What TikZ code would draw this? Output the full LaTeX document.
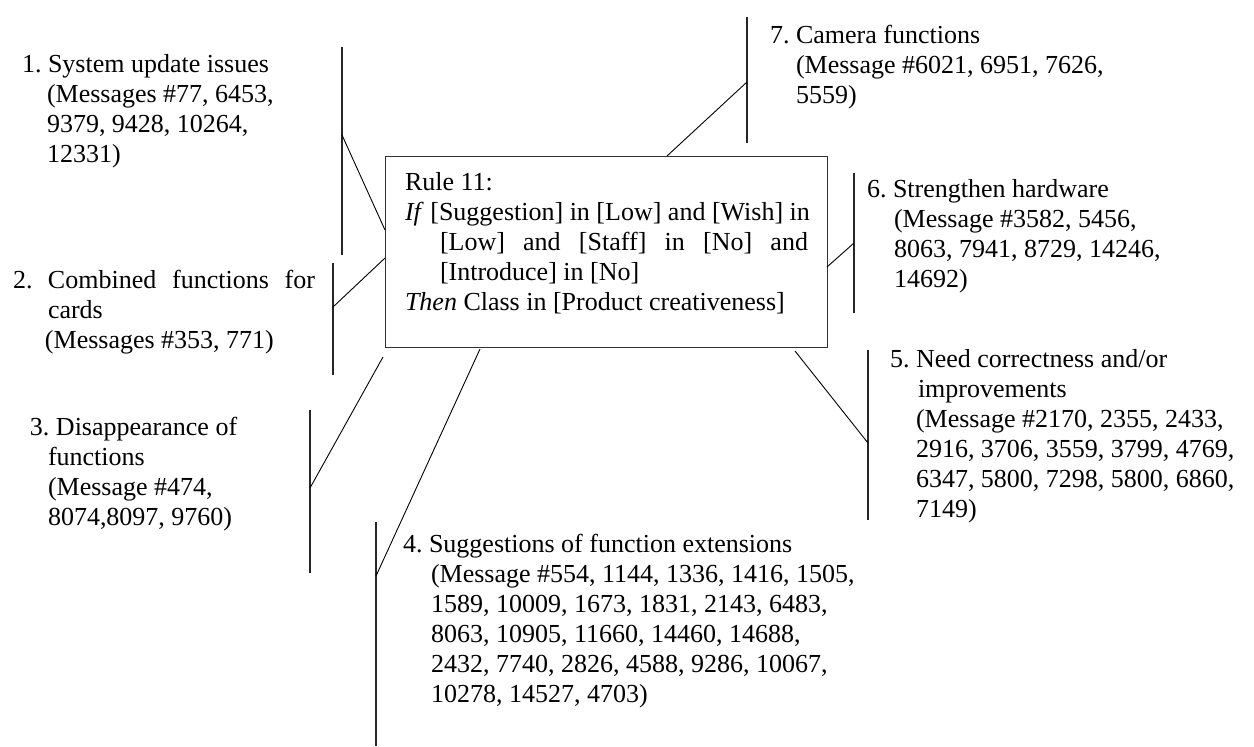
\documentclass[tikz,border=0pt]{standalone}
\usepackage{fontspec}
\setmainfont{Liberation Serif}
\begin{document}
\begin{tikzpicture}[x=1pt,y={(0pt,-1pt)},
  txt/.style={anchor=base west, inner sep=0pt, outer sep=0pt, font=\fontsize{26}{30}\selectfont},
  bar/.style={line width=1.1pt, black!85},
  link/.style={line width=0.9pt, black},
  rulebox/.style={draw=black!80, line width=0.9pt, minimum width=442pt, minimum height=191pt, anchor=north west, inner sep=0pt}]
\fill[white] (0,0) rectangle (1254,747);
\useasboundingbox (0,0) rectangle (1254,747);

% central box
\node[rulebox] (rule) at (385,156) {};
\node[txt] (ruletext) at (405,190) {\vtop{%
  \hbox{Rule 11:}
  \hbox{\textit{If} [Suggestion] in [Low] and [Wish] in}
  \hbox{\hspace*{35pt}\makebox[368pt][s]{[Low] and [Staff] in [No] and}}
  \hbox{\hspace*{35pt}[Introduce] in [No]}
  \hbox{\textit{Then} Class in [Product creativeness]}}};

% item texts
\node[txt] (t1) at (22,72) {\vtop{%
  \hbox{1.\ System update issues}
  \hbox{\hspace*{25pt}(Messages \#77, 6453,}
  \hbox{\hspace*{25pt}9379, 9428, 10264,}
  \hbox{\hspace*{25pt}12331)}}};
\node[txt] (t2) at (13,288) {\vtop{%
  \hbox{\makebox[35pt][l]{2.}\makebox[267pt][s]{Combined functions for}}
  \hbox{\hspace*{35pt}cards}
  \hbox{\hspace*{32pt}(Messages \#353, 771)}}};
\node[txt] (t3) at (30,435) {\vtop{%
  \hbox{3.\ Disappearance of}
  \hbox{\hspace*{18pt}functions}
  \hbox{\hspace*{18pt}(Message \#474,}
  \hbox{\hspace*{18pt}8074,8097, 9760)}}};
\node[txt] (t4) at (403,552) {\vtop{%
  \hbox{4.\ Suggestions of function extensions}
  \hbox{\hspace*{28pt}(Message \#554, 1144, 1336, 1416, 1505,}
  \hbox{\hspace*{28pt}1589, 10009, 1673, 1831, 2143, 6483,}
  \hbox{\hspace*{28pt}8063, 10905, 11660, 14460, 14688,}
  \hbox{\hspace*{28pt}2432, 7740, 2826, 4588, 9286, 10067,}
  \hbox{\hspace*{28pt}10278, 14527, 4703)}}};
\node[txt] (t5) at (890,367) {\vtop{%
  \hbox{5.\ Need correctness and/or}
  \hbox{\hspace*{28pt}improvements}
  \hbox{\hspace*{26pt}(Message \#2170, 2355, 2433,}
  \hbox{\hspace*{26pt}2916, 3706, 3559, 3799, 4769,}
  \hbox{\hspace*{26pt}6347, 5800, 7298, 5800, 6860,}
  \hbox{\hspace*{26pt}7149)}}};
\node[txt] (t6) at (867,197) {\vtop{%
  \hbox{6.\ Strengthen hardware}
  \hbox{\hspace*{27pt}(Message \#3582, 5456,}
  \hbox{\hspace*{27pt}8063, 7941, 8729, 14246,}
  \hbox{\hspace*{27pt}14692)}}};
\node[txt] (t7) at (770,43) {\vtop{%
  \hbox{7.\ Camera functions}
  \hbox{\hspace*{26pt}(Message \#6021, 6951, 7626,}
  \hbox{\hspace*{26pt}5559)}}};

% vertical bars
\coordinate (b1t) at (342,47);  \coordinate (b1b) at (342,255); \coordinate (b1m) at (342,135);
\coordinate (b2t) at (333,263); \coordinate (b2b) at (333,375); \coordinate (b2m) at (333,307);
\coordinate (b3t) at (310,410); \coordinate (b3b) at (310,573); \coordinate (b3m) at (310,488);
\coordinate (b4t) at (376,522); \coordinate (b4b) at (376,746); \coordinate (b4m) at (376,576);
\coordinate (b5t) at (868,350); \coordinate (b5b) at (868,520); \coordinate (b5m) at (868,443);
\coordinate (b6t) at (854,173); \coordinate (b6b) at (854,313); \coordinate (b6m) at (854,243);
\coordinate (b7t) at (747,17);  \coordinate (b7b) at (747,143); \coordinate (b7m) at (747,82);
\foreach \i in {1,...,7} {\draw[bar] (b\i t) -- (b\i b);}

% connector ends at the box
\coordinate (c1) at (385,230);
\coordinate (c2) at (385,258);
\coordinate (c3) at (383,357);
\coordinate (c4) at (480,349);
\coordinate (c5) at (795,351);
\coordinate (c6) at (827,267);
\coordinate (c7) at (667,156);
\foreach \i in {1,...,7} {\draw[link] (b\i m) -- (c\i);}
\end{tikzpicture}
\end{document}
